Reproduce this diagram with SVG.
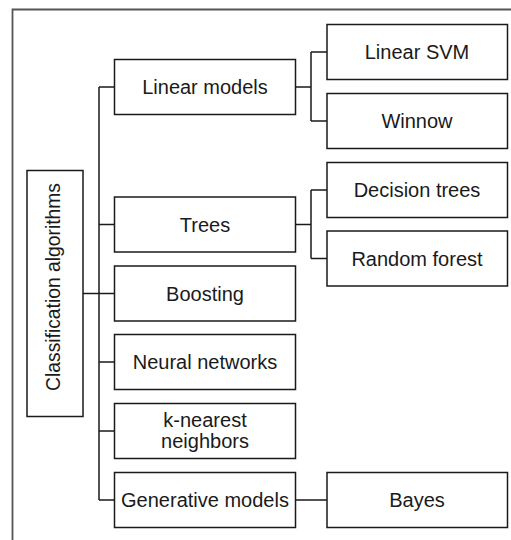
<svg xmlns="http://www.w3.org/2000/svg" width="511" height="540" viewBox="0 0 511 540">
<style>
.box{fill:#fff;stroke:#1a1a1a;stroke-width:1.5}
.lbl{font-family:"Liberation Sans",Arial,sans-serif;font-size:20px;fill:#1a1a1a;text-anchor:middle}
.con{fill:none;stroke:#1a1a1a;stroke-width:1.5}
</style>
<rect width="511" height="540" fill="#fff"/>
<path d="M12.5,542 V9.5 H513" fill="none" stroke="#555" stroke-width="1.8"/>
<g id="connectors" class="con">
<path d="M83,293.5 H99 M99,87 V500 M99,87 H114.5 M99,224.5 H114.5 M99,293.5 H114.5 M99,362 H114.5 M99,431 H114.5 M99,500 H114.5"/>
<path d="M295.5,87 H311 M311,52 V121 M311,52 H327 M311,121 H327"/>
<path d="M295.5,224.5 H311 M311,190 V258.5 M311,190 H327 M311,258.5 H327"/>
<path d="M295.5,500 H327"/>
</g>
<g id="classification">
<rect class="box" x="27" y="170.5" width="56" height="246"/>
<text class="lbl" font-size="19.3" style="font-size:19.3px" transform="translate(59.5,287) rotate(-90)">Classification algorithms</text>
</g>
<g id="linear-models">
<rect class="box" x="114.5" y="59.5" width="181" height="55"/>
<text class="lbl" x="205" y="94">Linear models</text>
</g>
<g id="trees">
<rect class="box" x="114.5" y="197" width="181" height="55"/>
<text class="lbl" x="205" y="231.5">Trees</text>
</g>
<g id="boosting">
<rect class="box" x="114.5" y="266" width="181" height="55"/>
<text class="lbl" x="205" y="300.5">Boosting</text>
</g>
<g id="neural-networks">
<rect class="box" x="114.5" y="334.5" width="181" height="55"/>
<text class="lbl" x="205" y="369">Neural networks</text>
</g>
<g id="knn">
<rect class="box" x="114.5" y="403.5" width="181" height="55"/>
<text class="lbl" x="205" y="426.5">k-nearest</text>
<text class="lbl" x="205" y="447.5">neighbors</text>
</g>
<g id="generative-models">
<rect class="box" x="114.5" y="472.5" width="181" height="55"/>
<text class="lbl" x="205" y="507">Generative models</text>
</g>
<g id="linear-svm">
<rect class="box" x="327" y="24.5" width="180.5" height="55"/>
<text class="lbl" x="417" y="59">Linear SVM</text>
</g>
<g id="winnow">
<rect class="box" x="327" y="93.5" width="180.5" height="55"/>
<text class="lbl" x="417" y="128">Winnow</text>
</g>
<g id="decision-trees">
<rect class="box" x="327" y="162.5" width="180.5" height="55"/>
<text class="lbl" x="417" y="197">Decision trees</text>
</g>
<g id="random-forest">
<rect class="box" x="327" y="231" width="180.5" height="55"/>
<text class="lbl" x="417" y="265.5">Random forest</text>
</g>
<g id="bayes">
<rect class="box" x="327" y="472.5" width="180.5" height="55"/>
<text class="lbl" x="417" y="507">Bayes</text>
</g>
</svg>
